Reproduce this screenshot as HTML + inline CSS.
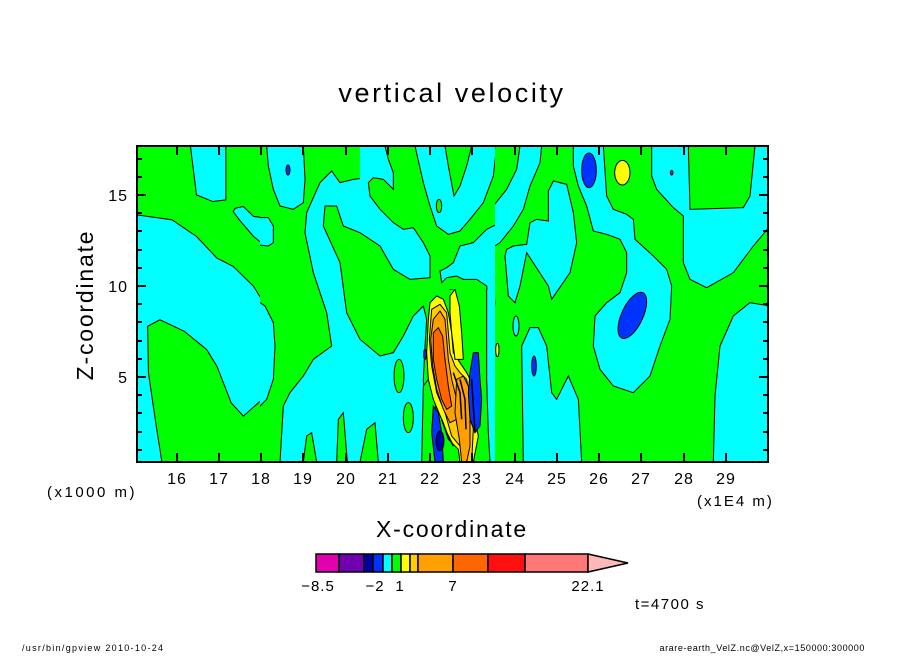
<!DOCTYPE html>
<html><head><meta charset="utf-8"><style>
body{margin:0;background:#fff;}
svg text{font-family:"Liberation Sans",sans-serif;fill:#000;}
</style></head><body>
<svg width="904" height="654" viewBox="0 0 904 654" xmlns="http://www.w3.org/2000/svg">
<defs>
<clipPath id="cz"><rect x="137" y="146" width="124" height="316"/></clipPath>
<clipPath id="c4"><rect x="260" y="146" width="235" height="316"/></clipPath>
<clipPath id="c5"><rect x="360" y="146" width="135" height="143"/></clipPath>
<clipPath id="c6"><rect x="495" y="146" width="273" height="316"/></clipPath>
</defs>
<rect x="137" y="146" width="631" height="316" fill="#00ff00"/>
<g stroke="#000" stroke-width="1" fill="#00ffff">
<g clip-path="url(#cz)">
<svg x="137" y="146" width="631" height="316" viewBox="14 18 1548 950" preserveAspectRatio="none">
<polygon vector-effect="non-scaling-stroke" points="14,225 100,240 160,290 210,355 250,380 300,440 340,520 355,600 358,700 330,770 275,830 245,790 210,680 185,630 130,575 70,540 40,560 42,700 60,850 75,968 14,968"/>
<polygon vector-effect="non-scaling-stroke" points="145,18 232,18 232,180 200,185 160,165"/>
<polygon vector-effect="non-scaling-stroke" points="255,205 275,200 300,230 340,235 350,260 350,310 330,320 300,290 265,240 250,215"/>
</svg></g>
<g clip-path="url(#c4)">
<rect x="260" y="146" width="250" height="316" fill="#00ff00" stroke="none"/>
<svg x="260" y="146" width="250" height="316" viewBox="0 0 750 948" preserveAspectRatio="none" overflow="visible">
<polygon vector-effect="non-scaling-stroke" points="-20,470 0,470 15,480 40,530 45,600 40,700 20,760 0,780 -20,780"/>
<polygon vector-effect="non-scaling-stroke" points="20,0 130,0 135,100 130,170 100,190 60,180 40,130 25,60"/>
<polygon vector-effect="non-scaling-stroke" points="-20,215 25,215 40,240 40,290 25,300 -20,295"/>
<polygon vector-effect="non-scaling-stroke" points="215,75 240,110 280,100 325,95 330,130 380,135 400,200 440,240 480,270 510,330 500,390 440,395 400,380 350,290 300,260 250,240 230,180 195,180 190,240 240,350 260,500 300,580 360,630 400,620 430,570 460,510 490,480 500,520 495,600 490,700 500,948 60,948 70,780 90,740 130,690 160,640 215,600 200,500 160,380 135,260 140,200 180,110"/>
<polygon vector-effect="non-scaling-stroke" points="680,420 700,400 710,400 710,948 690,948 685,860 680,700"/>
<polygon vector-effect="non-scaling-stroke" points="545,385 575,375 600,395 600,425 570,430 548,415"/>
<g fill="#00ff00">
<polygon vector-effect="non-scaling-stroke" points="130,948 140,870 155,860 170,948"/>
<polygon vector-effect="non-scaling-stroke" points="230,948 235,820 250,800 262,948"/>
<polygon vector-effect="non-scaling-stroke" points="300,948 320,850 345,830 355,948"/>
<ellipse vector-effect="non-scaling-stroke" cx="417" cy="690" rx="15" ry="50"/>
<ellipse vector-effect="non-scaling-stroke" cx="445" cy="815" rx="15" ry="45"/>
<polygon vector-effect="non-scaling-stroke" points="485,948 490,720 505,700 525,760 540,948"/>
</g>
<ellipse vector-effect="non-scaling-stroke" cx="84" cy="72" rx="6" ry="15" fill="#0033ff"/>
<polygon vector-effect="non-scaling-stroke" fill="#ffff00" points="510,470 530,450 550,460 565,500 575,560 580,620 600,650 620,680 630,700 640,800 655,870 640,948 600,948 595,910 565,880 545,820 520,760 505,700 500,620 505,520"/>
<polygon vector-effect="non-scaling-stroke" fill="#ffff00" points="570,450 585,430 598,480 605,560 610,640 585,640 575,560 570,500"/>
<polygon vector-effect="non-scaling-stroke" fill="#ffcc00" points="515,490 540,475 560,500 565,560 570,620 585,660 600,680 620,700 630,760 640,850 635,948 610,948 600,900 575,870 555,800 530,740 515,660 508,580"/>
<polygon vector-effect="non-scaling-stroke" fill="#ffa000" points="520,520 540,495 555,520 560,580 565,640 575,700 590,760 590,820 570,830 550,790 530,730 518,660 512,580"/>
<polygon vector-effect="non-scaling-stroke" fill="#ff6600" points="520,560 535,545 548,570 555,640 565,720 575,780 560,790 545,760 530,700 520,640"/>
<polygon vector-effect="non-scaling-stroke" fill="#ffa000" points="590,700 610,690 625,720 630,800 630,900 620,948 605,948 598,880 585,800"/>
<polygon vector-effect="non-scaling-stroke" fill="#0033ff" points="640,620 655,620 660,700 665,760 660,840 645,860 630,820 625,740 630,680"/>
<polygon vector-effect="non-scaling-stroke" fill="#0033ff" points="520,780 535,800 545,860 550,948 525,948 515,860"/>
<ellipse vector-effect="non-scaling-stroke" cx="540" cy="885" rx="12" ry="30" fill="#0000aa"/>
<ellipse vector-effect="non-scaling-stroke" cx="495" cy="625" rx="4" ry="15" fill="#0033ff"/>
<g fill="none" stroke-width="1.5">
<path vector-effect="non-scaling-stroke" d="M600,700 L615,760 L618,850 M580,680 L600,740 L605,820 M635,700 L640,780 L645,860 M545,820 L560,860 L580,900"/>
</g>
</svg></g>
<g clip-path="url(#c5)">
<rect x="360" y="146" width="220" height="180" fill="#00ff00" stroke="none"/>
<svg x="360" y="146" width="220" height="180" viewBox="0 0 660 540" preserveAspectRatio="none" overflow="visible">
<polygon vector-effect="non-scaling-stroke" points="-20,0 75,0 85,40 100,80 100,130 70,100 40,95 25,110 30,150 60,190 100,230 130,250 160,245 190,290 210,330 210,395 150,400 100,370 60,300 0,260 -20,255"/>
<polygon vector-effect="non-scaling-stroke" points="165,0 255,0 265,60 282,150 300,120 320,60 335,0 410,0 400,90 370,170 330,220 300,255 265,265 230,240 210,180 190,110"/>
<polygon vector-effect="non-scaling-stroke" points="280,350 300,300 340,290 380,250 420,230 420,540 395,540 380,420 350,400 310,400 290,390 260,395 245,410 240,375 260,365"/>
<ellipse vector-effect="non-scaling-stroke" cx="237" cy="180" rx="8" ry="20" fill="#00ff00"/>
</svg></g>
<g clip-path="url(#c6)">
<rect x="480" y="146" width="290" height="316" fill="#00ff00" stroke="none"/>
<svg x="480" y="146" width="290" height="316" viewBox="0 0 870 948" preserveAspectRatio="none">
<polygon vector-effect="non-scaling-stroke" points="0,0 45,0 35,70 0,130"/>
<polygon vector-effect="non-scaling-stroke" points="120,0 185,0 180,50 150,120 130,190 100,240 60,290 20,315 0,320 0,245 40,180 80,130 110,70"/>
<polygon vector-effect="non-scaling-stroke" points="80,310 100,300 140,295 150,230 170,220 205,225 205,135 220,105 260,115 280,200 290,290 270,380 215,460 205,420 140,320 120,420 105,470 85,450 75,330"/>
<polygon vector-effect="non-scaling-stroke" points="280,0 370,0 380,150 400,190 440,205 460,220 465,280 520,330 560,370 575,420 570,520 540,600 510,690 460,740 400,720 360,670 340,600 345,510 380,470 420,440 440,380 440,320 420,280 380,265 340,255 320,180 295,120 280,60"/>
<polygon vector-effect="non-scaling-stroke" points="515,0 625,0 630,190 790,185 810,150 825,0 870,0 870,240 820,300 760,380 680,425 630,400 610,350 610,210 580,185 530,130 515,90"/>
<polygon vector-effect="non-scaling-stroke" points="870,480 810,470 760,510 720,600 705,750 700,948 870,948"/>
<polygon vector-effect="non-scaling-stroke" points="0,410 38,400 45,470 30,620 25,840 0,900"/>
<polygon vector-effect="non-scaling-stroke" points="130,948 125,600 150,545 175,545 200,600 215,740 230,760 265,690 295,760 305,948"/>
<ellipse vector-effect="non-scaling-stroke" cx="108" cy="540" rx="9" ry="30"/>
<ellipse vector-effect="non-scaling-stroke" cx="327" cy="73" rx="22" ry="52" fill="#0033ff"/>
<ellipse vector-effect="non-scaling-stroke" cx="427" cy="80" rx="23" ry="37" fill="#ffff00"/>
<ellipse vector-effect="non-scaling-stroke" cx="457" cy="508" rx="32" ry="75" fill="#0033ff" transform="rotate(25 457 508)"/>
<ellipse vector-effect="non-scaling-stroke" cx="162" cy="660" rx="7" ry="30" fill="#0033ff"/>
<ellipse vector-effect="non-scaling-stroke" cx="52" cy="612" rx="5" ry="20" fill="#ffff00"/>
<ellipse vector-effect="non-scaling-stroke" cx="575" cy="80" rx="4" ry="7" fill="#0033ff"/>
</svg></g>
</g>
<rect x="137" y="146" width="631" height="316" fill="none" stroke="#000" stroke-width="2"/>
<g stroke="#000" stroke-width="2">
<path d="M177,462v-9M219,462v-9M261,462v-9M303,462v-9M346,462v-9M388,462v-9M430,462v-9M472,462v-9M515,462v-9M557,462v-9M599,462v-9M641,462v-9M684,462v-9M726,462v-9"/>
<path d="M177,146v9M219,146v9M261,146v9M303,146v9M346,146v9M388,146v9M430,146v9M472,146v9M515,146v9M557,146v9M599,146v9M641,146v9M684,146v9M726,146v9"/>
<path d="M137,195h9M137,286h9M137,377h9M768,195h-9M768,286h-9M768,377h-9"/>
<path d="M137,450h5M137,432h5M137,413h5M137,395h5M137,359h5M137,341h5M137,322h5M137,304h5M137,268h5M137,250h5M137,231h5M137,213h5M137,177h5M137,159h5"/>
<path d="M768,450h-5M768,432h-5M768,413h-5M768,395h-5M768,359h-5M768,341h-5M768,322h-5M768,304h-5M768,268h-5M768,250h-5M768,231h-5M768,213h-5M768,177h-5M768,159h-5"/>
</g>
<text x="452" y="102" font-size="27" letter-spacing="2.6" text-anchor="middle">vertical velocity</text>
<g font-size="16" text-anchor="end" letter-spacing="1">
<text x="128" y="201">15</text><text x="128" y="292">10</text><text x="128" y="383">5</text>
</g>
<g font-size="16" text-anchor="middle" letter-spacing="1">
<text x="177" y="484">16</text><text x="219" y="484">17</text><text x="261" y="484">18</text><text x="303" y="484">19</text><text x="346" y="484">20</text><text x="388" y="484">21</text><text x="430" y="484">22</text><text x="472" y="484">23</text><text x="515" y="484">24</text><text x="557" y="484">25</text><text x="599" y="484">26</text><text x="641" y="484">27</text><text x="684" y="484">28</text><text x="726" y="484">29</text>
</g>
<text x="47" y="497" font-size="15" letter-spacing="2.5">(x1000 m)</text>
<text x="697" y="506" font-size="15" letter-spacing="2">(x1E4 m)</text>
<text x="452" y="537" font-size="23" letter-spacing="1.8" text-anchor="middle">X-coordinate</text>
<text transform="translate(93,305) rotate(-90)" font-size="23" letter-spacing="1.8" text-anchor="middle">Z-coordinate</text>
<g stroke="#000" stroke-width="1.5">
<rect x="316" y="554" width="23" height="18" fill="#e000b0"/>
<rect x="339" y="554" width="25" height="18" fill="#7000b0"/>
<rect x="364" y="554" width="9" height="18" fill="#0000a0"/>
<rect x="373" y="554" width="10" height="18" fill="#0033ff"/>
<rect x="383" y="554" width="9" height="18" fill="#00ffff"/>
<rect x="392" y="554" width="9" height="18" fill="#00ff00"/>
<rect x="401" y="554" width="9" height="18" fill="#ffff00"/>
<rect x="410" y="554" width="8" height="18" fill="#ffcc00"/>
<rect x="418" y="554" width="35" height="18" fill="#ffa000"/>
<rect x="453" y="554" width="35" height="18" fill="#ff6600"/>
<rect x="488" y="554" width="37" height="18" fill="#ff1010"/>
<rect x="525" y="554" width="63" height="18" fill="#ff7878"/>
<polygon points="588,554 628,563 588,572" fill="#ffb8b8"/>
</g>
<g font-size="15" text-anchor="middle" letter-spacing="1">
<text x="318" y="591">−8.5</text><text x="375" y="591">−2</text><text x="400" y="591">1</text><text x="453" y="591">7</text><text x="588" y="591">22.1</text>
</g>
<text x="635" y="609" font-size="15" letter-spacing="1.5">t=4700 s</text>
<text x="22" y="651" font-size="9" letter-spacing="1.3">/usr/bin/gpview   2010-10-24</text>
<text x="865" y="651" font-size="9" letter-spacing="0.6" text-anchor="end">arare-earth_VelZ.nc@VelZ,x=150000:300000</text>
</svg>
</body></html>
